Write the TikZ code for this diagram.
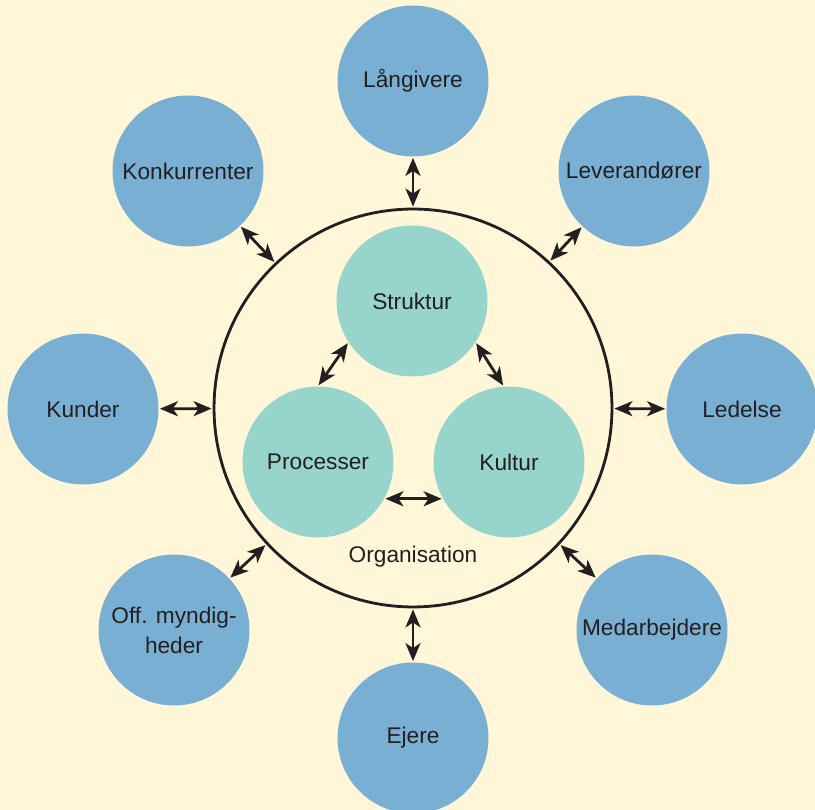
\documentclass[tikz,border=0pt]{standalone}
\usepackage{fontspec}
\setmainfont{Liberation Sans}
\usetikzlibrary{arrows.meta}
\definecolor{mybackground}{RGB}{255,247,216}
\definecolor{myblue}{RGB}{122,175,212}
\definecolor{myteal}{RGB}{151,212,203}
\definecolor{mytext}{RGB}{35,31,32}
\newcommand{\sizedisc}{3.02cm}
\newcommand{\sizeorg}{7.96cm}
\tikzset{
    disc/.style={circle, inner sep=0pt, minimum size=\sizedisc, text=mytext, font=\fontsize{12.9}{17}\selectfont, align=center},
    outer/.style={disc, fill=myblue},
    inner/.style={disc, fill=myteal},
    org/.style={circle, draw=mytext, line width=1.6pt, minimum size=\sizeorg, inner sep=0pt},
    link/.style={draw=mytext, line width=1.6pt, {Stealth[length=3.6mm, width=3mm, inset=1mm]}-{Stealth[length=3.6mm, width=3mm, inset=1mm]}, shorten <=0.6pt, shorten >=0.6pt},
}
\begin{document}
\begin{tikzpicture}[x=0.02cm, y=-0.02cm]
    \fill[mybackground] (0,0) rectangle (815,810);
    \useasboundingbox (0,0) rectangle (815,810);
    % organisation
    \node[org] (organisation) at (413,408) {};
    \node[text=mytext, font=\fontsize{12.9}{17}\selectfont] (orgtext) at (413,557) {Organisation};
    \node[inner] (struktur) at (412,301) {Struktur};
    \node[inner] (processer) at (318,462) {Processer};
    \node[inner] (kultur) at (509,462) {Kultur};
    \draw[link] (struktur.213) -- (processer.90);
    \draw[link] (struktur.-33) -- (kultur.94);
    \draw[link] (processer.-29) -- (kultur.209);
    % surroundings
    \node[outer] (laangivere) at (413,81) {Långivere};
    \node[outer] (leverandoerer) at (634,171) {Leverandører};
    \node[outer] (ledelse) at (742,409) {Ledelse};
    \node[outer] (medarbejdere) at (652,630) {Medarbejdere};
    \node[outer] (ejere) at (413,738) {Ejere};
    \node[outer] (offmyndigheder) at (174,630) {Off. myndig-\\heder};
    \node[outer] (kunder) at (83,409) {Kunder};
    \node[outer] (konkurrenter) at (188,171) {Konkurrenter};
    \foreach \n in {laangivere,leverandoerer,ledelse,medarbejdere,ejere,offmyndigheder,kunder,konkurrenter}
        \draw[link] (\n) -- (organisation);
\end{tikzpicture}
\end{document}
